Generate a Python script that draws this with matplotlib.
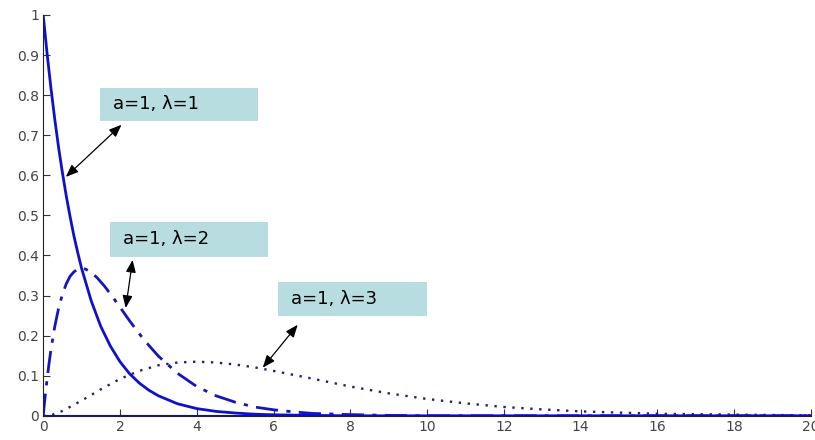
import matplotlib

matplotlib.use("Agg")
import matplotlib.pyplot as plt
from matplotlib.patches import Rectangle

plt.rcParams["font.family"] = ["Liberation Sans", "DejaVu Sans"]

# values
x1 = [0, 0.1, 0.2, 0.3, 0.4, 0.5, 0.6, 0.7, 0.8, 0.9, 1, 1.25, 1.5, 1.75, 2, 2.25, 2.5, 2.75, 3, 3.5, 4,
      4.5, 5, 5.5, 6, 7, 8, 10, 12, 14, 16, 18, 20]
y1 = [1.0, 0.905, 0.819, 0.741, 0.670, 0.607, 0.549, 0.497, 0.449, 0.407, 0.368, 0.287, 0.223, 0.174,
      0.135, 0.105, 0.082, 0.064, 0.050, 0.030, 0.018, 0.011, 0.007, 0.004, 0.0025, 0.001, 0, 0, 0, 0,
      0, 0, 0]

x2 = [0, 0.05, 0.1, 0.15, 0.2, 0.3, 0.4, 0.5, 0.6, 0.7, 0.8, 0.9, 1.0, 1.1, 1.2, 1.4, 1.6, 1.8, 2, 2.25,
      2.5, 2.75, 3, 3.5, 4, 4.5, 5, 5.5, 6, 6.5, 7, 8, 9, 10, 12, 14, 16, 18, 20]
y2 = [0, 0.048, 0.090, 0.129, 0.164, 0.222, 0.268, 0.303, 0.329, 0.348, 0.359, 0.366, 0.368, 0.366,
      0.361, 0.345, 0.323, 0.298, 0.271, 0.237, 0.205, 0.176, 0.149, 0.106, 0.073, 0.050, 0.034, 0.022,
      0.015, 0.010, 0.006, 0.003, 0.001, 0, 0, 0, 0, 0, 0]

x3 = [0, 0.25, 0.5, 1, 1.5, 2, 2.5, 3, 3.5, 4, 4.5, 5, 5.5, 6, 7, 8, 9, 10, 11, 12, 13, 14, 15, 16, 17,
      18, 20]
y3 = [0, 0.003, 0.012, 0.038, 0.066, 0.092, 0.112, 0.126, 0.133, 0.135, 0.133, 0.128, 0.121, 0.112,
      0.093, 0.073, 0.056, 0.042, 0.031, 0.022, 0.016, 0.011, 0.008, 0.005, 0.004, 0.003, 0.001]

labels = ["a=1, \u03bb=1", "a=1, \u03bb=2", "a=1, \u03bb=3"]
# label boxes (x0, x1, y0, y1) and arrow ends (tail, head) in data units
boxes = [(1.47, 5.59, 0.736, 0.818), (1.73, 5.85, 0.397, 0.484), (6.11, 9.99, 0.249, 0.334)]
arrows = [((0.59, 0.596), (2.04, 0.726)), ((2.15, 0.269), (2.33, 0.389)), ((5.72, 0.120), (6.63, 0.227))]

fig = plt.figure(figsize=(8.15, 4.4), dpi=100)
ax = fig.add_axes([0.053, 0.055, 0.942, 0.911])

ax.plot(x1, y1, color="#1010cc", lw=2.0, ls="-")
ax.plot(x2, y2, color="#1515c0", lw=2.0, ls=(0, (8, 3, 1.5, 3)))
ax.plot(x3, y3, color="#202070", lw=1.7, ls=(0, (1, 2.8)))
ax.plot([0, 20], [0, 0], color="#0a0ad0", lw=2.2)

for (bx0, bx1, by0, by1), lab in zip(boxes, labels):
    ax.add_patch(Rectangle((bx0, by0), bx1 - bx0, by1 - by0, facecolor="#b7dde0",
                           edgecolor="none", zorder=3))
    ax.text(bx0 + 0.35, (by0 + by1) / 2, lab, fontsize=13, family="DejaVu Sans",
            va="center", ha="left", zorder=4)

for tail, head in arrows:
    ax.annotate("", xy=head, xytext=tail,
                arrowprops=dict(arrowstyle="<|-|>,head_length=0.75,head_width=0.3",
                                color="black", lw=0.9, shrinkA=0, shrinkB=0))

ax.set_xlim(0, 20)
ax.set_ylim(0, 1)
ax.set_xticks(range(0, 21, 2))
ax.set_yticks([i / 10 for i in range(11)])
ax.set_yticklabels(["0", "0.1", "0.2", "0.3", "0.4", "0.5", "0.6", "0.7", "0.8", "0.9", "1"])
ax.tick_params(direction="in", length=5, labelsize=10, colors="#333333", pad=3)
for lab in ax.get_xticklabels() + ax.get_yticklabels():
    lab.set_family("DejaVu Sans")
    lab.set_color("#444444")
ax.spines["top"].set_visible(False)
ax.spines["right"].set_visible(False)
ax.spines["left"].set_color("#222222")
ax.spines["bottom"].set_color("#222222")

fig.savefig("out.png", dpi=100)
